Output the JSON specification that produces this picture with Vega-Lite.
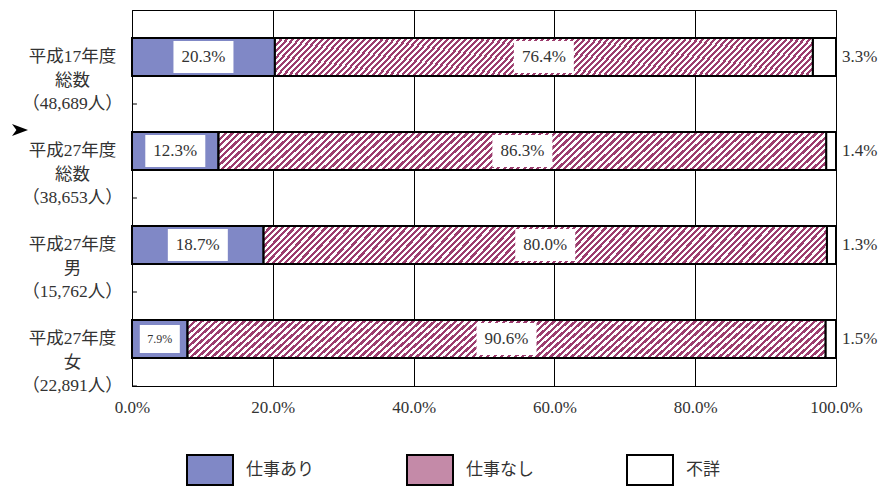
{
  "$schema": "https://vega.github.io/schema/vega-lite/v6.json",
  "width": 704,
  "height": 376,
  "autosize": "none",
  "padding": {"left": 132, "top": 10, "right": 46, "bottom": 101},
  "background": "white",
  "config": {
    "view": {"stroke": "#000", "strokeWidth": 1},
    "font": "Liberation Serif, Noto Sans CJK JP"
  },
  "data": {
    "values": [
      {"cat": "平成17年度 総数 （48,689人）", "type": "仕事あり", "v": 0.203, "o": 1},
      {"cat": "平成17年度 総数 （48,689人）", "type": "仕事なし", "v": 0.764, "o": 2},
      {"cat": "平成17年度 総数 （48,689人）", "type": "不詳", "v": 0.033, "o": 3},
      {"cat": "平成27年度 総数 （38,653人）", "type": "仕事あり", "v": 0.123, "o": 1},
      {"cat": "平成27年度 総数 （38,653人）", "type": "仕事なし", "v": 0.863, "o": 2},
      {"cat": "平成27年度 総数 （38,653人）", "type": "不詳", "v": 0.014, "o": 3},
      {"cat": "平成27年度 男 （15,762人）", "type": "仕事あり", "v": 0.187, "o": 1},
      {"cat": "平成27年度 男 （15,762人）", "type": "仕事なし", "v": 0.800, "o": 2},
      {"cat": "平成27年度 男 （15,762人）", "type": "不詳", "v": 0.013, "o": 3},
      {"cat": "平成27年度 女 （22,891人）", "type": "仕事あり", "v": 0.079, "o": 1},
      {"cat": "平成27年度 女 （22,891人）", "type": "仕事なし", "v": 0.906, "o": 2},
      {"cat": "平成27年度 女 （22,891人）", "type": "不詳", "v": 0.015, "o": 3}
    ]
  },
  "transform": [
    {"stack": "v", "groupby": ["cat"], "sort": [{"field": "o"}], "as": ["s0", "s1"]}
  ],
  "encoding": {
    "y": {
      "field": "cat",
      "type": "nominal",
      "sort": null,
      "scale": {"paddingInner": 0, "paddingOuter": 0},
      "axis": {
        "title": null,
        "labelExpr": "split(datum.label, ' ')",
        "labelAlign": "center",
        "labelBaseline": "middle",
        "labelPadding": 60,
        "ticks": false,
        "tickSize": 0,
        "domain": true,
        "domainColor": "#000",
        "labelFontSize": 17.5,
        "labelLineHeight": 23.5,
        "labelColor": "#333",
        "labelFont": "Liberation Serif, Noto Sans CJK JP"
      }
    }
  },
  "layer": [
    {
      "mark": {"type": "bar", "stroke": "#000", "strokeWidth": 2, "size": 38},
      "encoding": {
        "x": {
          "field": "s0",
          "type": "quantitative",
          "scale": {"domain": [0, 1]},
          "axis": {
            "title": null,
            "values": [0, 0.2, 0.4, 0.6, 0.8, 1],
            "format": ".1%",
            "grid": true,
            "gridColor": "#000",
            "gridOpacity": 1,
            "gridWidth": 1,
            "ticks": false,
            "domainColor": "#000",
            "labelFontSize": 17,
            "labelPadding": 13,
            "labelColor": "#333",
            "labelFlush": false,
            "labelFont": "Liberation Serif"
          }
        },
        "x2": {"field": "s1"},
        "color": {
          "field": "type",
          "type": "nominal",
          "scale": {"domain": ["仕事あり", "仕事なし", "不詳"], "range": ["#8088C6", "#C48AA8", "#FFFFFF"]},
          "legend": {
            "title": null,
            "orient": "none",
            "legendX": 54,
            "legendY": 436,
            "direction": "horizontal",
            "columns": 3,
            "symbolType": "M-1,-0.65H1V0.65H-1Z",
            "symbolSize": 2116,
            "symbolStrokeColor": "#000",
            "symbolStrokeWidth": 2,
            "symbolOpacity": 1,
            "labelFontSize": 17,
            "labelFont": "Noto Sans CJK JP",
            "labelColor": "#333",
            "labelOffset": 12,
            "columnPadding": 89,
            "padding": 0
          }
        }
      }
    },
    {
      "transform": [{"filter": "datum.o == 2"}],
      "mark": {
        "type": "bar", "stroke": "#000", "strokeWidth": 2, "size": 38,
        "fill": {
          "gradient": "linear", "x1": 0, "y1": 0, "x2": 1.1, "y2": 0.072,
          "stops": [
{"offset":0,"color":"#9c3d6e"},{"offset":0.005,"color":"#9c3d6e"},{"offset":0.005,"color":"#fff"},{"offset":0.01,"color":"#fff"},
{"offset":0.01,"color":"#9c3d6e"},{"offset":0.015,"color":"#9c3d6e"},{"offset":0.015,"color":"#fff"},{"offset":0.02,"color":"#fff"},
{"offset":0.02,"color":"#9c3d6e"},{"offset":0.025,"color":"#9c3d6e"},{"offset":0.025,"color":"#fff"},{"offset":0.03,"color":"#fff"},
{"offset":0.03,"color":"#9c3d6e"},{"offset":0.035,"color":"#9c3d6e"},{"offset":0.035,"color":"#fff"},{"offset":0.04,"color":"#fff"},
{"offset":0.04,"color":"#9c3d6e"},{"offset":0.045,"color":"#9c3d6e"},{"offset":0.045,"color":"#fff"},{"offset":0.05,"color":"#fff"},
{"offset":0.05,"color":"#9c3d6e"},{"offset":0.055,"color":"#9c3d6e"},{"offset":0.055,"color":"#fff"},{"offset":0.06,"color":"#fff"},
{"offset":0.06,"color":"#9c3d6e"},{"offset":0.065,"color":"#9c3d6e"},{"offset":0.065,"color":"#fff"},{"offset":0.07,"color":"#fff"},
{"offset":0.07,"color":"#9c3d6e"},{"offset":0.075,"color":"#9c3d6e"},{"offset":0.075,"color":"#fff"},{"offset":0.08,"color":"#fff"},
{"offset":0.08,"color":"#9c3d6e"},{"offset":0.085,"color":"#9c3d6e"},{"offset":0.085,"color":"#fff"},{"offset":0.09,"color":"#fff"},
{"offset":0.09,"color":"#9c3d6e"},{"offset":0.095,"color":"#9c3d6e"},{"offset":0.095,"color":"#fff"},{"offset":0.1,"color":"#fff"},
{"offset":0.1,"color":"#9c3d6e"},{"offset":0.105,"color":"#9c3d6e"},{"offset":0.105,"color":"#fff"},{"offset":0.11,"color":"#fff"},
{"offset":0.11,"color":"#9c3d6e"},{"offset":0.115,"color":"#9c3d6e"},{"offset":0.115,"color":"#fff"},{"offset":0.12,"color":"#fff"},
{"offset":0.12,"color":"#9c3d6e"},{"offset":0.125,"color":"#9c3d6e"},{"offset":0.125,"color":"#fff"},{"offset":0.13,"color":"#fff"},
{"offset":0.13,"color":"#9c3d6e"},{"offset":0.135,"color":"#9c3d6e"},{"offset":0.135,"color":"#fff"},{"offset":0.14,"color":"#fff"},
{"offset":0.14,"color":"#9c3d6e"},{"offset":0.145,"color":"#9c3d6e"},{"offset":0.145,"color":"#fff"},{"offset":0.15,"color":"#fff"},
{"offset":0.15,"color":"#9c3d6e"},{"offset":0.155,"color":"#9c3d6e"},{"offset":0.155,"color":"#fff"},{"offset":0.16,"color":"#fff"},
{"offset":0.16,"color":"#9c3d6e"},{"offset":0.165,"color":"#9c3d6e"},{"offset":0.165,"color":"#fff"},{"offset":0.17,"color":"#fff"},
{"offset":0.17,"color":"#9c3d6e"},{"offset":0.175,"color":"#9c3d6e"},{"offset":0.175,"color":"#fff"},{"offset":0.18,"color":"#fff"},
{"offset":0.18,"color":"#9c3d6e"},{"offset":0.185,"color":"#9c3d6e"},{"offset":0.185,"color":"#fff"},{"offset":0.19,"color":"#fff"},
{"offset":0.19,"color":"#9c3d6e"},{"offset":0.195,"color":"#9c3d6e"},{"offset":0.195,"color":"#fff"},{"offset":0.2,"color":"#fff"},
{"offset":0.2,"color":"#9c3d6e"},{"offset":0.205,"color":"#9c3d6e"},{"offset":0.205,"color":"#fff"},{"offset":0.21,"color":"#fff"},
{"offset":0.21,"color":"#9c3d6e"},{"offset":0.215,"color":"#9c3d6e"},{"offset":0.215,"color":"#fff"},{"offset":0.22,"color":"#fff"},
{"offset":0.22,"color":"#9c3d6e"},{"offset":0.225,"color":"#9c3d6e"},{"offset":0.225,"color":"#fff"},{"offset":0.23,"color":"#fff"},
{"offset":0.23,"color":"#9c3d6e"},{"offset":0.235,"color":"#9c3d6e"},{"offset":0.235,"color":"#fff"},{"offset":0.24,"color":"#fff"},
{"offset":0.24,"color":"#9c3d6e"},{"offset":0.245,"color":"#9c3d6e"},{"offset":0.245,"color":"#fff"},{"offset":0.25,"color":"#fff"},
{"offset":0.25,"color":"#9c3d6e"},{"offset":0.255,"color":"#9c3d6e"},{"offset":0.255,"color":"#fff"},{"offset":0.26,"color":"#fff"},
{"offset":0.26,"color":"#9c3d6e"},{"offset":0.265,"color":"#9c3d6e"},{"offset":0.265,"color":"#fff"},{"offset":0.27,"color":"#fff"},
{"offset":0.27,"color":"#9c3d6e"},{"offset":0.275,"color":"#9c3d6e"},{"offset":0.275,"color":"#fff"},{"offset":0.28,"color":"#fff"},
{"offset":0.28,"color":"#9c3d6e"},{"offset":0.285,"color":"#9c3d6e"},{"offset":0.285,"color":"#fff"},{"offset":0.29,"color":"#fff"},
{"offset":0.29,"color":"#9c3d6e"},{"offset":0.295,"color":"#9c3d6e"},{"offset":0.295,"color":"#fff"},{"offset":0.3,"color":"#fff"},
{"offset":0.3,"color":"#9c3d6e"},{"offset":0.305,"color":"#9c3d6e"},{"offset":0.305,"color":"#fff"},{"offset":0.31,"color":"#fff"},
{"offset":0.31,"color":"#9c3d6e"},{"offset":0.315,"color":"#9c3d6e"},{"offset":0.315,"color":"#fff"},{"offset":0.32,"color":"#fff"},
{"offset":0.32,"color":"#9c3d6e"},{"offset":0.325,"color":"#9c3d6e"},{"offset":0.325,"color":"#fff"},{"offset":0.33,"color":"#fff"},
{"offset":0.33,"color":"#9c3d6e"},{"offset":0.335,"color":"#9c3d6e"},{"offset":0.335,"color":"#fff"},{"offset":0.34,"color":"#fff"},
{"offset":0.34,"color":"#9c3d6e"},{"offset":0.345,"color":"#9c3d6e"},{"offset":0.345,"color":"#fff"},{"offset":0.35,"color":"#fff"},
{"offset":0.35,"color":"#9c3d6e"},{"offset":0.355,"color":"#9c3d6e"},{"offset":0.355,"color":"#fff"},{"offset":0.36,"color":"#fff"},
{"offset":0.36,"color":"#9c3d6e"},{"offset":0.365,"color":"#9c3d6e"},{"offset":0.365,"color":"#fff"},{"offset":0.37,"color":"#fff"},
{"offset":0.37,"color":"#9c3d6e"},{"offset":0.375,"color":"#9c3d6e"},{"offset":0.375,"color":"#fff"},{"offset":0.38,"color":"#fff"},
{"offset":0.38,"color":"#9c3d6e"},{"offset":0.385,"color":"#9c3d6e"},{"offset":0.385,"color":"#fff"},{"offset":0.39,"color":"#fff"},
{"offset":0.39,"color":"#9c3d6e"},{"offset":0.395,"color":"#9c3d6e"},{"offset":0.395,"color":"#fff"},{"offset":0.4,"color":"#fff"},
{"offset":0.4,"color":"#9c3d6e"},{"offset":0.405,"color":"#9c3d6e"},{"offset":0.405,"color":"#fff"},{"offset":0.41,"color":"#fff"},
{"offset":0.41,"color":"#9c3d6e"},{"offset":0.415,"color":"#9c3d6e"},{"offset":0.415,"color":"#fff"},{"offset":0.42,"color":"#fff"},
{"offset":0.42,"color":"#9c3d6e"},{"offset":0.425,"color":"#9c3d6e"},{"offset":0.425,"color":"#fff"},{"offset":0.43,"color":"#fff"},
{"offset":0.43,"color":"#9c3d6e"},{"offset":0.435,"color":"#9c3d6e"},{"offset":0.435,"color":"#fff"},{"offset":0.44,"color":"#fff"},
{"offset":0.44,"color":"#9c3d6e"},{"offset":0.445,"color":"#9c3d6e"},{"offset":0.445,"color":"#fff"},{"offset":0.45,"color":"#fff"},
{"offset":0.45,"color":"#9c3d6e"},{"offset":0.455,"color":"#9c3d6e"},{"offset":0.455,"color":"#fff"},{"offset":0.46,"color":"#fff"},
{"offset":0.46,"color":"#9c3d6e"},{"offset":0.465,"color":"#9c3d6e"},{"offset":0.465,"color":"#fff"},{"offset":0.47,"color":"#fff"},
{"offset":0.47,"color":"#9c3d6e"},{"offset":0.475,"color":"#9c3d6e"},{"offset":0.475,"color":"#fff"},{"offset":0.48,"color":"#fff"},
{"offset":0.48,"color":"#9c3d6e"},{"offset":0.485,"color":"#9c3d6e"},{"offset":0.485,"color":"#fff"},{"offset":0.49,"color":"#fff"},
{"offset":0.49,"color":"#9c3d6e"},{"offset":0.495,"color":"#9c3d6e"},{"offset":0.495,"color":"#fff"},{"offset":0.5,"color":"#fff"},
{"offset":0.5,"color":"#9c3d6e"},{"offset":0.505,"color":"#9c3d6e"},{"offset":0.505,"color":"#fff"},{"offset":0.51,"color":"#fff"},
{"offset":0.51,"color":"#9c3d6e"},{"offset":0.515,"color":"#9c3d6e"},{"offset":0.515,"color":"#fff"},{"offset":0.52,"color":"#fff"},
{"offset":0.52,"color":"#9c3d6e"},{"offset":0.525,"color":"#9c3d6e"},{"offset":0.525,"color":"#fff"},{"offset":0.53,"color":"#fff"},
{"offset":0.53,"color":"#9c3d6e"},{"offset":0.535,"color":"#9c3d6e"},{"offset":0.535,"color":"#fff"},{"offset":0.54,"color":"#fff"},
{"offset":0.54,"color":"#9c3d6e"},{"offset":0.545,"color":"#9c3d6e"},{"offset":0.545,"color":"#fff"},{"offset":0.55,"color":"#fff"},
{"offset":0.55,"color":"#9c3d6e"},{"offset":0.555,"color":"#9c3d6e"},{"offset":0.555,"color":"#fff"},{"offset":0.56,"color":"#fff"},
{"offset":0.56,"color":"#9c3d6e"},{"offset":0.565,"color":"#9c3d6e"},{"offset":0.565,"color":"#fff"},{"offset":0.57,"color":"#fff"},
{"offset":0.57,"color":"#9c3d6e"},{"offset":0.575,"color":"#9c3d6e"},{"offset":0.575,"color":"#fff"},{"offset":0.58,"color":"#fff"},
{"offset":0.58,"color":"#9c3d6e"},{"offset":0.585,"color":"#9c3d6e"},{"offset":0.585,"color":"#fff"},{"offset":0.59,"color":"#fff"},
{"offset":0.59,"color":"#9c3d6e"},{"offset":0.595,"color":"#9c3d6e"},{"offset":0.595,"color":"#fff"},{"offset":0.6,"color":"#fff"},
{"offset":0.6,"color":"#9c3d6e"},{"offset":0.605,"color":"#9c3d6e"},{"offset":0.605,"color":"#fff"},{"offset":0.61,"color":"#fff"},
{"offset":0.61,"color":"#9c3d6e"},{"offset":0.615,"color":"#9c3d6e"},{"offset":0.615,"color":"#fff"},{"offset":0.62,"color":"#fff"},
{"offset":0.62,"color":"#9c3d6e"},{"offset":0.625,"color":"#9c3d6e"},{"offset":0.625,"color":"#fff"},{"offset":0.63,"color":"#fff"},
{"offset":0.63,"color":"#9c3d6e"},{"offset":0.635,"color":"#9c3d6e"},{"offset":0.635,"color":"#fff"},{"offset":0.64,"color":"#fff"},
{"offset":0.64,"color":"#9c3d6e"},{"offset":0.645,"color":"#9c3d6e"},{"offset":0.645,"color":"#fff"},{"offset":0.65,"color":"#fff"},
{"offset":0.65,"color":"#9c3d6e"},{"offset":0.655,"color":"#9c3d6e"},{"offset":0.655,"color":"#fff"},{"offset":0.66,"color":"#fff"},
{"offset":0.66,"color":"#9c3d6e"},{"offset":0.665,"color":"#9c3d6e"},{"offset":0.665,"color":"#fff"},{"offset":0.67,"color":"#fff"},
{"offset":0.67,"color":"#9c3d6e"},{"offset":0.675,"color":"#9c3d6e"},{"offset":0.675,"color":"#fff"},{"offset":0.68,"color":"#fff"},
{"offset":0.68,"color":"#9c3d6e"},{"offset":0.685,"color":"#9c3d6e"},{"offset":0.685,"color":"#fff"},{"offset":0.69,"color":"#fff"},
{"offset":0.69,"color":"#9c3d6e"},{"offset":0.695,"color":"#9c3d6e"},{"offset":0.695,"color":"#fff"},{"offset":0.7,"color":"#fff"},
{"offset":0.7,"color":"#9c3d6e"},{"offset":0.705,"color":"#9c3d6e"},{"offset":0.705,"color":"#fff"},{"offset":0.71,"color":"#fff"},
{"offset":0.71,"color":"#9c3d6e"},{"offset":0.715,"color":"#9c3d6e"},{"offset":0.715,"color":"#fff"},{"offset":0.72,"color":"#fff"},
{"offset":0.72,"color":"#9c3d6e"},{"offset":0.725,"color":"#9c3d6e"},{"offset":0.725,"color":"#fff"},{"offset":0.73,"color":"#fff"},
{"offset":0.73,"color":"#9c3d6e"},{"offset":0.735,"color":"#9c3d6e"},{"offset":0.735,"color":"#fff"},{"offset":0.74,"color":"#fff"},
{"offset":0.74,"color":"#9c3d6e"},{"offset":0.745,"color":"#9c3d6e"},{"offset":0.745,"color":"#fff"},{"offset":0.75,"color":"#fff"},
{"offset":0.75,"color":"#9c3d6e"},{"offset":0.755,"color":"#9c3d6e"},{"offset":0.755,"color":"#fff"},{"offset":0.76,"color":"#fff"},
{"offset":0.76,"color":"#9c3d6e"},{"offset":0.765,"color":"#9c3d6e"},{"offset":0.765,"color":"#fff"},{"offset":0.77,"color":"#fff"},
{"offset":0.77,"color":"#9c3d6e"},{"offset":0.775,"color":"#9c3d6e"},{"offset":0.775,"color":"#fff"},{"offset":0.78,"color":"#fff"},
{"offset":0.78,"color":"#9c3d6e"},{"offset":0.785,"color":"#9c3d6e"},{"offset":0.785,"color":"#fff"},{"offset":0.79,"color":"#fff"},
{"offset":0.79,"color":"#9c3d6e"},{"offset":0.795,"color":"#9c3d6e"},{"offset":0.795,"color":"#fff"},{"offset":0.8,"color":"#fff"},
{"offset":0.8,"color":"#9c3d6e"},{"offset":0.805,"color":"#9c3d6e"},{"offset":0.805,"color":"#fff"},{"offset":0.81,"color":"#fff"},
{"offset":0.81,"color":"#9c3d6e"},{"offset":0.815,"color":"#9c3d6e"},{"offset":0.815,"color":"#fff"},{"offset":0.82,"color":"#fff"},
{"offset":0.82,"color":"#9c3d6e"},{"offset":0.825,"color":"#9c3d6e"},{"offset":0.825,"color":"#fff"},{"offset":0.83,"color":"#fff"},
{"offset":0.83,"color":"#9c3d6e"},{"offset":0.835,"color":"#9c3d6e"},{"offset":0.835,"color":"#fff"},{"offset":0.84,"color":"#fff"},
{"offset":0.84,"color":"#9c3d6e"},{"offset":0.845,"color":"#9c3d6e"},{"offset":0.845,"color":"#fff"},{"offset":0.85,"color":"#fff"},
{"offset":0.85,"color":"#9c3d6e"},{"offset":0.855,"color":"#9c3d6e"},{"offset":0.855,"color":"#fff"},{"offset":0.86,"color":"#fff"},
{"offset":0.86,"color":"#9c3d6e"},{"offset":0.865,"color":"#9c3d6e"},{"offset":0.865,"color":"#fff"},{"offset":0.87,"color":"#fff"},
{"offset":0.87,"color":"#9c3d6e"},{"offset":0.875,"color":"#9c3d6e"},{"offset":0.875,"color":"#fff"},{"offset":0.88,"color":"#fff"},
{"offset":0.88,"color":"#9c3d6e"},{"offset":0.885,"color":"#9c3d6e"},{"offset":0.885,"color":"#fff"},{"offset":0.89,"color":"#fff"},
{"offset":0.89,"color":"#9c3d6e"},{"offset":0.895,"color":"#9c3d6e"},{"offset":0.895,"color":"#fff"},{"offset":0.9,"color":"#fff"},
{"offset":0.9,"color":"#9c3d6e"},{"offset":0.905,"color":"#9c3d6e"},{"offset":0.905,"color":"#fff"},{"offset":0.91,"color":"#fff"},
{"offset":0.91,"color":"#9c3d6e"},{"offset":0.915,"color":"#9c3d6e"},{"offset":0.915,"color":"#fff"},{"offset":0.92,"color":"#fff"},
{"offset":0.92,"color":"#9c3d6e"},{"offset":0.925,"color":"#9c3d6e"},{"offset":0.925,"color":"#fff"},{"offset":0.93,"color":"#fff"},
{"offset":0.93,"color":"#9c3d6e"},{"offset":0.935,"color":"#9c3d6e"},{"offset":0.935,"color":"#fff"},{"offset":0.94,"color":"#fff"},
{"offset":0.94,"color":"#9c3d6e"},{"offset":0.945,"color":"#9c3d6e"},{"offset":0.945,"color":"#fff"},{"offset":0.95,"color":"#fff"},
{"offset":0.95,"color":"#9c3d6e"},{"offset":0.955,"color":"#9c3d6e"},{"offset":0.955,"color":"#fff"},{"offset":0.96,"color":"#fff"},
{"offset":0.96,"color":"#9c3d6e"},{"offset":0.965,"color":"#9c3d6e"},{"offset":0.965,"color":"#fff"},{"offset":0.97,"color":"#fff"},
{"offset":0.97,"color":"#9c3d6e"},{"offset":0.975,"color":"#9c3d6e"},{"offset":0.975,"color":"#fff"},{"offset":0.98,"color":"#fff"},
{"offset":0.98,"color":"#9c3d6e"},{"offset":0.985,"color":"#9c3d6e"},{"offset":0.985,"color":"#fff"},{"offset":0.99,"color":"#fff"},
{"offset":0.99,"color":"#9c3d6e"},{"offset":0.995,"color":"#9c3d6e"},{"offset":0.995,"color":"#fff"},{"offset":1,"color":"#fff"}
          ]
        }
      },
      "encoding": {
        "x": {"field": "s0", "type": "quantitative"},
        "x2": {"field": "s1"}
      }
    },
    {
      "transform": [
        {"fold": ["s0", "s1"], "as": ["k", "p"]},
        {"aggregate": [{"op": "mean", "field": "p", "as": "mid"}], "groupby": ["cat", "type", "v", "o"]},
        {"filter": "datum.o < 3"}
      ],
      "mark": {"type": "point", "filled": true, "color": "white", "opacity": 1, "strokeWidth": 0},
      "encoding": {
        "x": {"field": "mid", "type": "quantitative"},
        "shape": {"condition": {"test": "datum.v < 0.1", "value": "M-1,-0.7H1V0.7H-1Z"}, "value": "M-1,-0.533H1V0.533H-1Z"},
        "size": {"condition": {"test": "datum.v < 0.1", "value": 1600}, "value": 3600}
      }
    },
    {
      "transform": [
        {"fold": ["s0", "s1"], "as": ["k", "p"]},
        {"aggregate": [{"op": "mean", "field": "p", "as": "mid"}], "groupby": ["cat", "type", "v", "o"]},
        {"filter": "datum.o < 3"}
      ],
      "mark": {"type": "text", "color": "#333", "font": "Liberation Serif", "baseline": "middle", "align": "center"},
      "encoding": {
        "x": {"field": "mid", "type": "quantitative"},
        "text": {"field": "v", "type": "quantitative", "format": ".1%"},
        "size": {"condition": {"test": "datum.v < 0.1", "value": 12}, "value": 17}
      }
    },
    {
      "transform": [{"filter": "datum.o == 3"}],
      "mark": {"type": "text", "color": "#333", "font": "Liberation Serif", "fontSize": 17, "baseline": "middle", "align": "left", "dx": 6},
      "encoding": {
        "x": {"datum": 1},
        "text": {"field": "v", "type": "quantitative", "format": ".1%"}
      }
    },
    {
      "transform": [{"filter": "datum.o == 1"}],
      "mark": {"type": "rule", "color": "#000", "strokeWidth": 1, "yOffset": 47},
      "encoding": {
        "x": {"datum": 0},
        "x2": {"datum": 0.007}
      }
    },
    {
      "transform": [{"filter": "datum.o == 1 && datum.cat == '平成27年度 総数 （38,653人）'"}],
      "mark": {"type": "point", "filled": true, "color": "#000", "opacity": 1, "strokeWidth": 0, "shape": "M-1,-0.75L1,0L-1,0.75L-0.45,0Z", "size": 256, "xOffset": -112, "yOffset": -21},
      "encoding": {
        "x": {"datum": 0}
      }
    }
  ]
}
